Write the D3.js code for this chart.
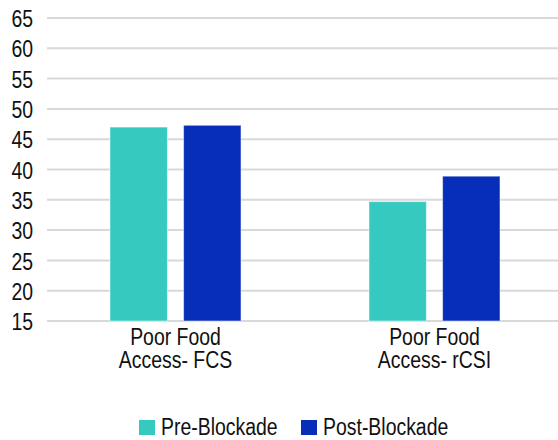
<!DOCTYPE html>
<html>
<head>
<meta charset="utf-8">
<script src="https://cdn.jsdelivr.net/npm/d3@7"></script>
<style>
  body { margin: 0; background: #fff; }
  text { font-family: "Liberation Sans Narrow", "Liberation Sans", Arial, sans-serif; fill: #111; }
</style>
</head>
<body>
<div id="chart"></div>
<script>
// data
var categories = ["Poor Food|Access- FCS", "Poor Food|Access- rCSI"];
var seriesNames = ["Pre-Blockade", "Post-Blockade"];
var preBlockade = [47.0, 34.7];
var postBlockade = [47.3, 38.9];
var yTicks = [15, 20, 25, 30, 35, 40, 45, 50, 55, 60, 65];
var colors = ["#36c9c0", "#062eb8"];

var svgWidth = 558;
var svgHeight = 440;
var squeeze = 0.81; // condensed look
var fontSize = "24px";

var margin = { top: 18, right: -6, bottom: 119, left: 46 };
var width = svgWidth - margin.left - margin.right;
var height = svgHeight - margin.top - margin.bottom;

var svg = d3.select("#chart")
    .append("svg")
    .attr("width", svgWidth)
    .attr("height", svgHeight);

var chartGroup = svg.append("g")
    .attr("transform", `translate(${margin.left}, ${margin.top})`);

var yScale = d3.scaleLinear().domain([15, 65]).range([height, 0]);
var x0 = d3.scaleBand().domain(categories).range([0, width]).paddingInner(0).paddingOuter(0);
var x1 = d3.scaleBand().domain(seriesNames).range([0, 131]).paddingInner(0.22);

// gridlines
chartGroup.append("g")
    .selectAll("line")
    .data(yTicks)
    .enter()
    .append("line")
    .attr("x1", 1)
    .attr("x2", width)
    .attr("y1", d => yScale(d))
    .attr("y2", d => yScale(d))
    .attr("stroke", "#d9d9d9")
    .attr("stroke-width", 2);

// y axis labels
var yAxis = chartGroup.append("g")
    .call(d3.axisLeft(yScale).tickValues(yTicks).tickSize(0).tickPadding(0));
yAxis.select(".domain").remove();
yAxis.selectAll("text")
    .attr("x", -13 / squeeze)
    .attr("dy", "0.36em")
    .attr("transform", `scale(${squeeze}, 1)`)
    .style("font-size", fontSize)
    .style("font-family", "'Liberation Sans', Arial, sans-serif")
    .attr("fill", "#111");

// bars
var values = [preBlockade, postBlockade];
var groups = chartGroup.selectAll(".cat")
    .data(categories)
    .enter()
    .append("g")
    .attr("transform", d => `translate(${x0(d) + x0.bandwidth() / 2 - 65.5}, 0)`);

groups.selectAll("rect")
    .data((d, i) => seriesNames.map((s, j) => ({ s: s, v: values[j][i], j: j })))
    .enter()
    .append("rect")
    .attr("x", d => x1(d.s))
    .attr("width", x1.bandwidth())
    .attr("y", d => yScale(d.v))
    .attr("height", d => height - yScale(d.v))
    .attr("fill", d => colors[d.j])
    .attr("stroke", "#fff")
    .attr("stroke-opacity", 0.5)
    .attr("stroke-width", 1);

// category labels
var catLabels = chartGroup.selectAll(".catLabel")
    .data(categories)
    .enter()
    .append("text")
    .attr("text-anchor", "middle")
    .style("font-size", fontSize)
    .attr("transform", d => `translate(${x0(d) + x0.bandwidth() / 2}, ${height + 24}) scale(${squeeze}, 1)`);

catLabels.selectAll("tspan")
    .data(d => d.split("|"))
    .enter()
    .append("tspan")
    .attr("x", 0)
    .attr("dy", (d, i) => i === 0 ? 0 : 23)
    .text(d => d);

// legend
var legend = svg.append("g")
    .attr("transform", "translate(139, 420)");

var legendX = [0, 162];
seriesNames.forEach(function(name, i) {
    var item = legend.append("g").attr("transform", `translate(${legendX[i]}, 0)`);
    item.append("rect")
        .attr("width", 16)
        .attr("height", 15)
        .attr("fill", colors[i]);
    item.append("text")
        .attr("transform", `translate(22, 15) scale(${squeeze}, 1)`)
        .style("font-size", fontSize)
        .text(name);
});
</script>
</body>
</html>
